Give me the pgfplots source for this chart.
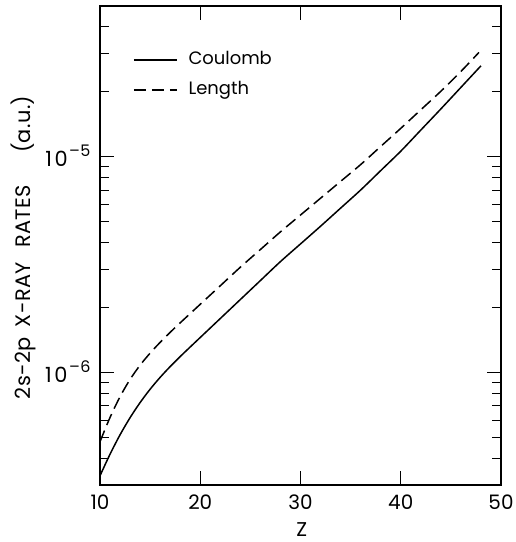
\documentclass[border=0pt]{standalone}
\usepackage{fontspec}
\setmainfont{Poppins}
\usepackage{pgfplots}
\usepackage{pgfplotstable}
\pgfplotsset{compat=1.18}
\newcommand{\tp}[1]{{\fontsize{21}{21}\selectfont 1\kern2.5bp 0}\kern1.5bp\raisebox{0.5em}{\fontsize{16}{16}\selectfont –\kern0.5bp#1}}
\pgfplotstableread{
Z v
10 3.311e-7
11 4.169e-7
12 5.129e-7
13 6.159e-7
14 7.236e-7
15 8.347e-7
16 9.474e-7
17 1.0629e-6
18 1.183e-6
19 1.3107e-6
20 1.4505e-6
22 1.7763e-6
24 2.1752e-6
26 2.6639e-6
28 3.2622e-6
30 3.9401e-6
32 4.7588e-6
34 5.7743e-6
36 7.0064e-6
38 8.6198e-6
40 1.0605e-5
42 1.3289e-5
44 1.6654e-5
46 2.0966e-5
48 2.6395e-5
}\coulomb
\pgfplotstableread{
Z v
10 4.764e-7
11 6.173e-7
12 7.709e-7
13 9.268e-7
14 1.0789e-6
15 1.2274e-6
16 1.3772e-6
17 1.5325e-6
18 1.6963e-6
20 2.0679e-6
22 2.5200e-6
24 3.0726e-6
26 3.7110e-6
28 4.4822e-6
30 5.3641e-6
32 6.4195e-6
34 7.6823e-6
36 9.1934e-6
38 1.1156e-5
40 1.3536e-5
42 1.6502e-5
44 2.0116e-5
46 2.4859e-5
47.8 3.0459e-5
}\length
\begin{document}
\begin{tikzpicture}
\begin{axis}[
  scale only axis, width=401bp, height=479bp,
  xmin=10, xmax=50, ymode=log, ymin=3e-7, ymax=5e-5,
  xtick={10,20,30,40,50}, xticklabels={10,20,30,40,50},
  ytick={1e-6,1e-5}, yticklabels={\tp{6},\tp{5}},
  minor ytick={4e-7,5e-7,6e-7,7e-7,8e-7,9e-7,2e-6,3e-6,4e-6,5e-6,6e-6,7e-6,8e-6,9e-6,2e-5,3e-5,4e-5},
  tick align=inside, major tick length=14bp, minor tick length=9bp,
  axis line style={line width=1.3bp},
  every tick/.style={line width=1.1bp, black},
  tick label style={font=\fontsize{20}{20}\selectfont},
  xticklabel style={yshift=-6bp},
  yticklabel style={xshift=-6bp, yshift=1bp},
  xlabel={Z}, ylabel={2s-2p\hspace{10bp}X-RAY\hspace{14bp}RATES\hspace{32bp}(a.u.)},
  xlabel style={font=\fontsize{20}{20}\selectfont, at={(axis description cs:0.503,-0.092)}, anchor=center},
  ylabel style={font=\fontsize{21}{21}\selectfont\addfontfeature{LetterSpace=2}, at={(axis description cs:-0.19,0.496)}, anchor=center},
  legend image code/.code={\draw[#1] (0bp,0bp) -- (43bp,0bp);},
  legend style={draw=none, fill=none, at={(axis description cs:0.082,0.904)}, anchor=north west,
    inner sep=0pt, row sep=14bp, column sep=11bp,
    nodes={inner sep=0pt, text height=12bp, text depth=4bp, font=\fontsize{18}{18}\selectfont}},
  legend cell align=left,
]
\addplot[black, line width=1.5bp, smooth] table[x=Z, y=v] {\coulomb};
\addlegendentry{Coulomb}
\addplot[black, line width=1.5bp, smooth, dash pattern=on 12bp off 6bp] table[x=Z, y=v] {\length};
\addlegendentry{Length}
\coordinate (sw) at (rel axis cs:0,0);
\coordinate (ne) at (rel axis cs:1,1);
\end{axis}
\pgfresetboundingbox
\path (sw) +(-100bp,-57bp) (ne) +(15bp,6bp);
\end{tikzpicture}
\end{document}
